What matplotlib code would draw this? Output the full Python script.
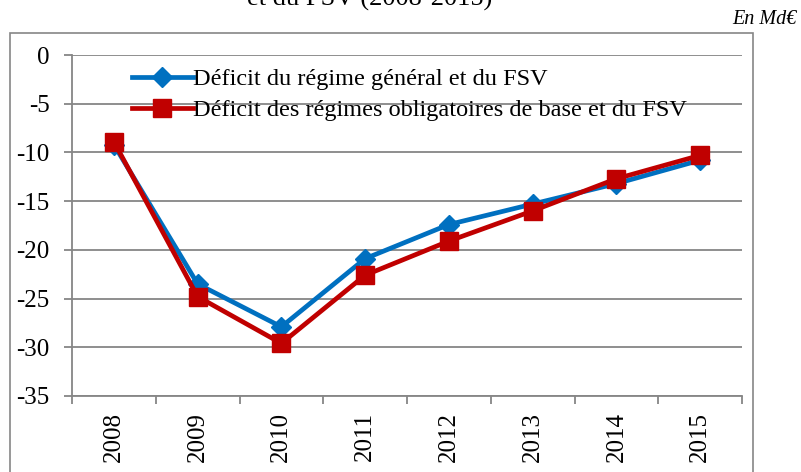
import matplotlib
matplotlib.use("Agg")
import matplotlib.pyplot as plt
from matplotlib.patches import Rectangle
import numpy as np

years = ["2008", "2009", "2010", "2011", "2012", "2013", "2014", "2015"]
rg_fsv = [-9.2, -23.5, -27.9, -20.9, -17.4, -15.3, -13.2, -10.8]
base_fsv = [-8.9, -24.8, -29.6, -22.6, -19.1, -16.0, -12.7, -10.3]
label_rg = "Déficit du régime général et du FSV"
label_base = "Déficit des régimes obligatoires de base et du FSV"
yticks = [0, -5, -10, -15, -20, -25, -30, -35]

W, H = 801, 472
fig = plt.figure(figsize=(W / 100, H / 100), dpi=100)
serif = ["Liberation Serif", "DejaVu Serif"]

# outer chart frame
fig.patches.append(Rectangle((10 / W, -0.05), (753 - 10) / W, 1.05 - 33 / H,
                             transform=fig.transFigure, fill=False,
                             edgecolor="#868686", linewidth=1.2))

ax = fig.add_axes([72 / W, 1 - 396 / H, (742 - 72) / W, (396 - 55) / H])
x = np.arange(len(years))
ax.plot(x, rg_fsv, color="#0070C0", lw=3.4, marker="D", ms=10,
        label=label_rg, zorder=3)
ax.plot(x, base_fsv, color="#C00000", lw=3.4, marker="s", ms=13,
        label=label_base, zorder=4)

ax.set_xlim(-0.5, len(years) - 0.5)
ax.set_ylim(-35, 0)
ax.set_yticks(yticks)
ax.set_yticklabels([str(v) for v in yticks], fontfamily=serif, fontsize=18)
ax.set_xticks(x)
ax.set_xticklabels(years, rotation=90, fontfamily=serif, fontsize=18)
ax.set_xticks(np.arange(-0.5, len(years)), minor=True)
ax.tick_params(axis="x", which="major", length=0, pad=11.5)
ax.tick_params(axis="x", which="minor", length=6, color="#868686", width=1.3, direction="out")
ax.tick_params(axis="y", length=6, color="#868686", width=1.3, pad=10)
ax.grid(axis="y", color="#868686", lw=1.3)
ax.set_axisbelow(True)
for s in ["top", "right"]:
    ax.spines[s].set_visible(False)
for s in ["left", "bottom"]:
    ax.spines[s].set_color("#868686")
    ax.spines[s].set_linewidth(1.3)

leg = ax.legend(loc="upper left", bbox_to_anchor=(0.075, 0.99), frameon=False,
                prop={"family": serif, "size": 17.5}, handlelength=2.5,
                handletextpad=0.0, labelspacing=0.38, borderaxespad=0)

fig.text(797 / W, 1 - 20 / H, "En Md€", ha="right", va="center",
         fontfamily=serif, fontstyle="italic", fontsize=14.5)
fig.text(370 / W, 1 - 6 / H, "et du FSV (2008-2015)", ha="center", va="baseline",
         fontfamily=serif, fontsize=19)

fig.savefig("out.png", dpi=100)
